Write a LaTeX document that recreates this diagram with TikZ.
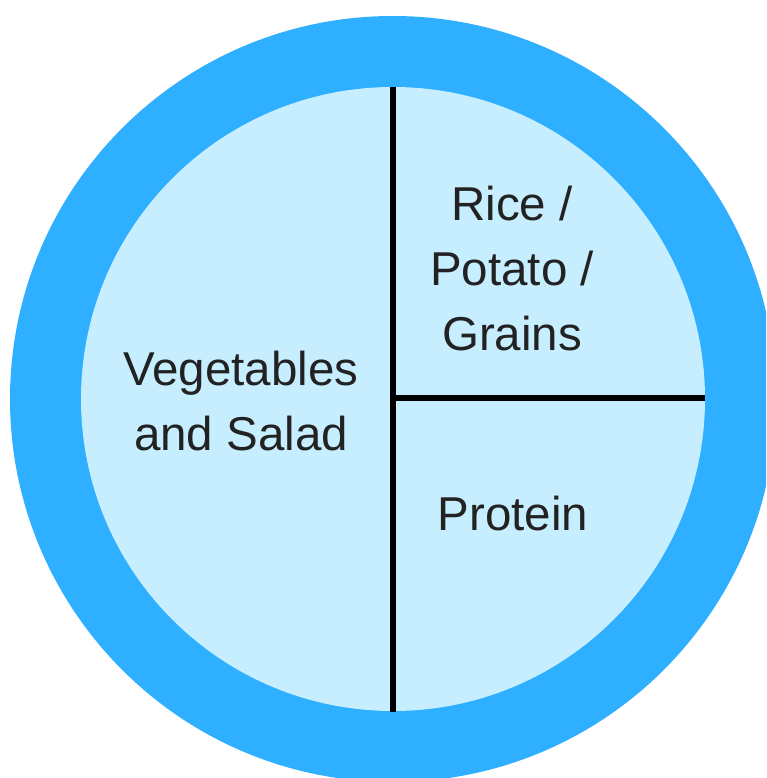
\documentclass[tikz,border=0pt]{standalone}
\usepackage{fontspec}
\setmainfont{Liberation Sans}
\usetikzlibrary{calc}
\definecolor{rim}{RGB}{46,175,255}
\definecolor{plate}{RGB}{198,238,255}
\definecolor{ink}{RGB}{34,34,34}
\tikzstyle{lbl}=[inner sep=0, text=ink, align=center, font=\fontsize{47.5}{65}\selectfont]
\tikzstyle{divider}=[line width=6pt, black]

\begin{document}
\begin{tikzpicture}[x=1pt, y=-1pt]
\useasboundingbox (0,0) rectangle (766,778);
\clip (0,0) rectangle (766,778);
%\draw[help lines,step=50] (0,0) grid (766,778);
\fill[rim] (393,399) circle (383);
\fill[plate] (393,399) circle (312);
\coordinate (top) at (393,87);
\coordinate (bot) at (393,712);
\coordinate (mid) at (393,398);
\coordinate (rgt) at (705,398);
\draw[divider] (top)--(bot);
\draw[divider] (mid)--(rgt);
\node at (241,401)[lbl](veg){Vegetables\\and Salad};
\node at (512,269)[lbl](carb){Rice /\\Potato /\\Grains};
\node at (513,514)[lbl](prot){Protein};
\end{tikzpicture}
\end{document}
